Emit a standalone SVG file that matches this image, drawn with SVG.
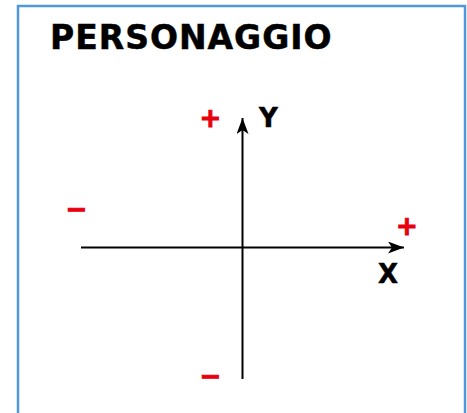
<svg xmlns="http://www.w3.org/2000/svg" width="467" height="413" viewBox="0 0 467 413">
<style>
.title{font-family:"DejaVu Sans",Verdana,sans-serif;font-weight:bold;font-size:33px;letter-spacing:1px;fill:#000;stroke:#000;stroke-width:0.5px}
.lbl{font-family:"DejaVu Sans",Verdana,sans-serif;font-weight:bold;font-size:26px;fill:#000;stroke:#000;stroke-width:0.5px}
.sign{font-family:"DejaVu Sans",Verdana,sans-serif;font-weight:bold;font-size:26px;fill:#e8000e;stroke:#e8000e;stroke-width:1px;text-anchor:middle}
.axis{stroke:#000;stroke-width:2;fill:none}
</style>
<defs>
<marker id="ah" markerWidth="16" markerHeight="12" refX="16" refY="6" orient="auto" markerUnits="userSpaceOnUse">
<path d="M0,0 L16,6 L0,12 L4,6 Z" fill="#000"/>
</marker>
</defs>
<rect x="18" y="6" width="447" height="420" fill="#fff" stroke="#4f98db" stroke-width="2.5"/>
<g id="title"><text class="title" x="50" y="49">PERSONAGGIO</text></g>
<g id="connectors">
<line class="axis" x1="81" y1="247.5" x2="404" y2="247.5" marker-end="url(#ah)"/>
<line class="axis" x1="242.5" y1="379" x2="242.5" y2="118" marker-end="url(#ah)"/>
</g>
<g id="labelY"><text class="lbl" x="259" y="127">Y</text></g>
<g id="labelX"><text class="lbl" x="378" y="283">X</text></g>
<g id="plusY"><text class="sign" x="210.5" y="127">+</text></g>
<g id="plusX"><text class="sign" x="407" y="235">+</text></g>
<g id="minusX"><text class="sign" x="76.5" y="218">−</text></g>
<g id="minusY"><text class="sign" x="210.5" y="385">−</text></g>
</svg>
